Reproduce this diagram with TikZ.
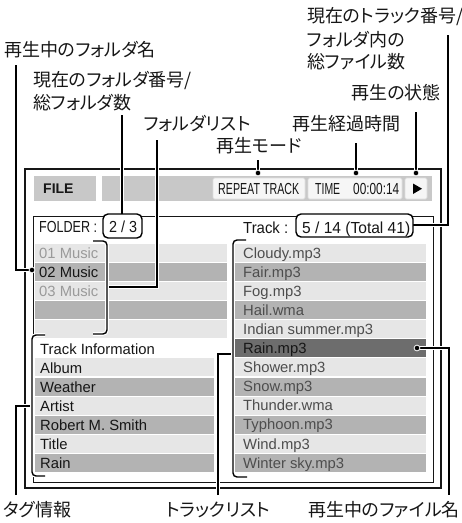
\documentclass[tikz,border=0pt]{standalone}
\usepackage{fontspec}
\setmainfont{Liberation Sans}
\newfontfamily\jp[RawFeature=+palt]{Noto Sans CJK JP}
\usepackage{graphicx}
\definecolor{lightrow}{HTML}{E6E6E6}
\definecolor{darkrow}{HTML}{B3B3B3}
\definecolor{selrow}{HTML}{6D6D6D}
\definecolor{bargray}{HTML}{C8C8C8}
\definecolor{boxfill}{HTML}{F6F6F6}
\definecolor{boxline}{HTML}{DDDDDD}
\definecolor{dimtext}{HTML}{9A9A9A}
\definecolor{listtext}{HTML}{4D4D4D}
\definecolor{ink}{HTML}{161616}
\newcommand\fw[2]{\resizebox{#1pt}{\height}{#2}}
\begin{document}
\begin{tikzpicture}[x=1pt,y=-1pt,
  jl/.style={font=\jp\fontsize{18}{21}\selectfont, anchor=west, inner sep=0pt, text=ink},
  ld/.style={line width=1.4pt, draw=black, preaction={draw=white, line width=3.6pt}},
  brk/.style={ld, rounded corners=4pt},
  lt/.style={font=\fontsize{14.8}{17}\selectfont, anchor=base west, inner sep=0pt},
  hd/.style={font=\fontsize{16}{18}\selectfont, anchor=base west, inner sep=0pt, text=ink},
  dotc/.style={fill=black, draw=white, line width=0.8pt},
  barbox/.style={fill=boxfill, draw=boxline, line width=0.6pt, rounded corners=1.5pt},
  valbox/.style={fill=white, draw=black, line width=1.4pt, rounded corners=5pt}]
\useasboundingbox (0,0) rectangle (462,523);

% outer frame
\draw[line width=1.2pt, draw=ink] (25,169) rectangle (441,488);

% top bar
\fill[bargray] (34,176) rectangle (96,201);
\fill[bargray] (102,176) rectangle (432,201);
\node[font=\bfseries\fontsize{14}{16}\selectfont, anchor=base west, inner sep=0pt, text=ink] (file) at (43,193.3) {FILE};
\draw[barbox] (213,178) rectangle (305,199);
\draw[barbox] (308,178) rectangle (402,199);
\draw[barbox] (405,178) rectangle (427,199);
\node[hd] (mode) at (218,194.3) {\fw{81}{REPEAT TRACK}};
\node[hd] (timelbl) at (315,194.3) {\fw{25}{TIME}};
\node[hd] (timeval) at (353,194.3) {\fw{46}{00:00:14}};
\fill[black] (413,183.5) -- (413,194) -- (422,188.7) -- cycle;

% inner frame
\draw[line width=1pt, draw=ink] (33,216) rectangle (433,482);

% rows
\foreach \i/\c in {1/lightrow,2/darkrow,3/lightrow,4/darkrow,5/lightrow}{
  \pgfmathsetmacro\yt{244+19.08*(\i-1)}
  \fill[\c] (35,\yt) rectangle (227,\yt+18);
}
\foreach \i/\c in {7/lightrow,8/darkrow,9/lightrow,10/darkrow,11/lightrow,12/darkrow}{
  \pgfmathsetmacro\yt{244+19.08*(\i-1)}
  \fill[\c] (35,\yt) rectangle (214,\yt+18);
}
\foreach \i/\c in {1/lightrow,2/darkrow,3/lightrow,4/darkrow,5/lightrow,6/selrow,7/lightrow,8/darkrow,9/lightrow,10/darkrow,11/lightrow,12/darkrow}{
  \pgfmathsetmacro\yt{244+19.08*(\i-1)}
  \fill[\c] (235,\yt) rectangle (426,\yt+18);
}

% folder list text
\foreach \i/\t/\c in {1/01 Music/dimtext,2/02 Music/ink,3/03 Music/dimtext}{
  \pgfmathsetmacro\yb{244+19.08*(\i-1)+14.2}
  \node[lt, text=\c] (fl\i) at (39,\yb) {\t};
}
% track info text
\foreach \i/\t in {6/Track Information,7/Album,8/Weather,9/Artist,10/Robert M. Smith,11/Title,12/Rain}{
  \pgfmathsetmacro\yb{244+19.08*(\i-1)+14.6}
  \node[lt, text=ink] (ti\i) at (40,\yb) {\t};
}
% track list text
\foreach \i/\t/\c in {1/Cloudy.mp3/listtext,2/Fair.mp3/listtext,3/Fog.mp3/listtext,4/Hail.wma/listtext,5/Indian summer.mp3/listtext,6/Rain.mp3/ink,7/Shower.mp3/listtext,8/Snow.mp3/listtext,9/Thunder.wma/listtext,10/Typhoon.mp3/listtext,11/Wind.mp3/listtext,12/Winter sky.mp3/listtext}{
  \pgfmathsetmacro\yb{244+19.08*(\i-1)+14.2}
  \node[lt, text=\c] (tl\i) at (243,\yb) {\t};
}

% header texts
\node[hd] (folderlbl) at (39,232.5) {\fw{58}{FOLDER :}};
\node[hd] (tracklbl) at (243,233) {\fw{45}{Track :}};

% labels
\node[jl, anchor=center] (lfoldername) at (80,50) {再生中のフォルダ名};
\node[jl] (lfoldernum1) at (33,80) {現在のフォルダ番号/};
\node[jl] (lfoldernum2) at (33,103) {総フォルダ数};
\node[jl, anchor=center] (lfolderlist) at (197,123) {フォルダリスト};
\node[jl, anchor=center] (lmode) at (259,146) {再生モード};
\node[jl, anchor=center] (ltime) at (346,124) {再生経過時間};
\node[jl, anchor=center] (lstate) at (396,93) {再生の状態};
\node[jl] (ltrack1) at (307,17) {現在のトラック番号/};
\node[jl] (ltrack2) at (307,40) {フォルダ内の};
\node[jl] (ltrack3) at (307,62) {総ファイル数};
\node[jl] (ltag) at (3,510) {タグ情報};
\node[jl, anchor=center] (ltracklist) at (218,510) {トラックリスト};
\node[jl, anchor=east] (lplayfile) at (460,510) {再生中のファイル名};

% coordinates
\coordinate (dfolder) at (32,270);
\coordinate (dmode) at (258,173);
\coordinate (dtime) at (356,173);
\coordinate (dstate) at (416,173);
\coordinate (dfile) at (417,348);

% leaders
\draw[ld] (16,65) |- (dfolder);
\draw[ld] (122,115) -- (122,214);
\draw[ld] (157,140) |- (107,287);
\draw[ld] (258,160) -- (dmode);
\draw[ld] (356,143) -- (dtime);
\draw[ld] (416,112) -- (dstate);
\draw[ld] (448,35) |- (413,225);
\draw[ld] (dfile) -| (449,495);
\draw[ld] (218,495) |- (233,354);
\draw[ld] (16,495) |- (32,406);

% brackets
\draw[brk] (93,241) -- (107,241) -- (107,334) -- (93,334);
\draw[brk] (45,335) -- (32,335) -- (32,476) -- (45,476);
\draw[brk] (246,240) -- (233,240) -- (233,477) -- (247,477);

% value boxes
\draw[valbox] (103,214) rectangle (142,238);
\node[hd] (foldernum) at (109,232.5) {\fw{28}{2 / 3}};
\draw[valbox] (296,214) rectangle (413,237);
\node[hd] (tracknum) at (302,233) {\fw{108}{5 / 14 (Total 41)}};

% dots
\foreach \d in {dfolder,dmode,dtime,dstate,dfile}{
  \filldraw[dotc] (\d) circle (2.9pt);
}
\end{tikzpicture}
\end{document}
